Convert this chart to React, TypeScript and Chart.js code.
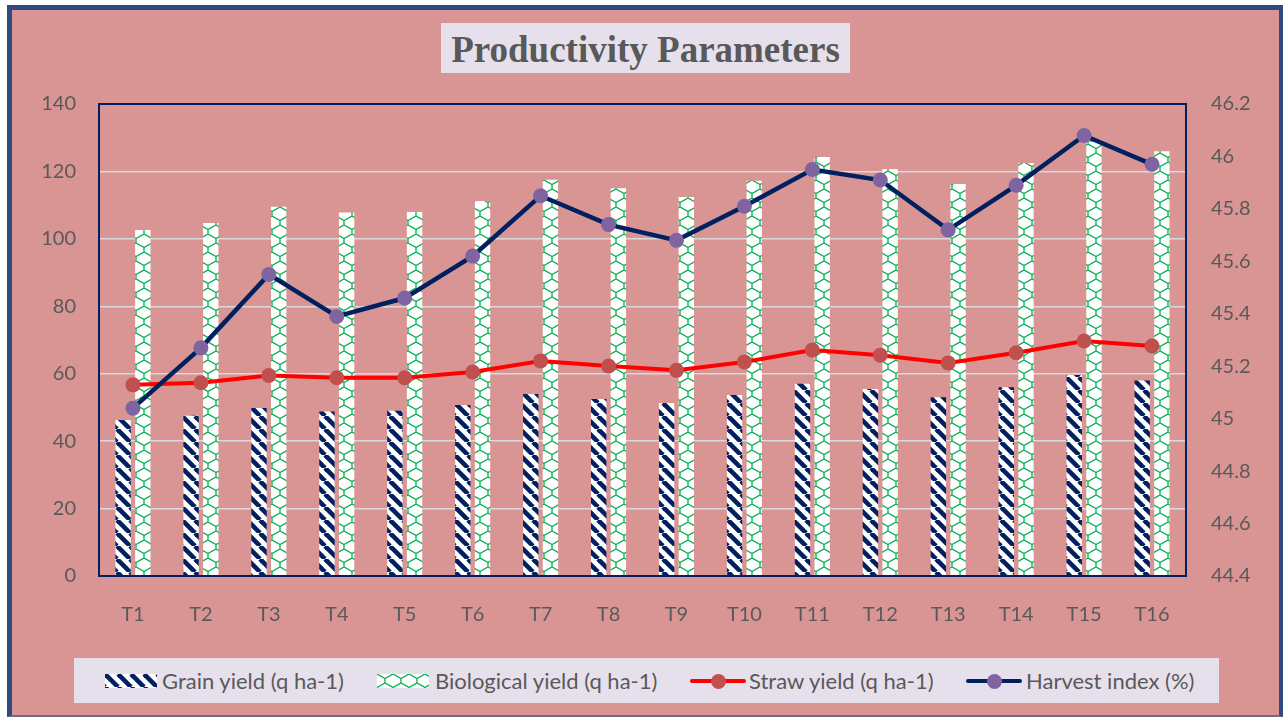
import React, { useEffect, useRef } from 'react';
import { Chart, registerables } from 'chart.js';

Chart.register(...registerables);

const categories = ['T1', 'T2', 'T3', 'T4', 'T5', 'T6', 'T7', 'T8', 'T9', 'T10', 'T11', 'T12', 'T13', 'T14', 'T15', 'T16'];
const grainYield = [46.3, 47.5, 49.8, 48.8, 49.0, 50.7, 54.0, 52.5, 51.3, 53.7, 57.0, 55.5, 53.0, 56.0, 59.6, 58.0];
const biologicalYield = [102.6, 104.7, 109.5, 107.8, 108.0, 111.2, 117.5, 115.0, 112.4, 117.2, 124.3, 120.7, 116.3, 122.5, 128.7, 126.0];
const strawYield = [56.7, 57.3, 59.5, 58.8, 58.8, 60.5, 63.8, 62.3, 61.0, 63.5, 67.0, 65.5, 63.2, 66.2, 69.7, 68.2];
const harvestIndex = [45.04, 45.27, 45.55, 45.39, 45.46, 45.62, 45.85, 45.74, 45.68, 45.81, 45.95, 45.91, 45.72, 45.89, 46.08, 45.97];

const leftAxis = { min: 0, max: 140, step: 20 };
const rightAxis = { min: 44.4, max: 46.2, step: 0.2 };

const seriesNames = ['Grain yield (q ha-1)', 'Biological yield (q ha-1)', 'Straw yield (q ha-1)', 'Harvest index (%)'];
const titleText = 'Productivity Parameters';

const NAVY = '#002060';
const GREEN = '#00B050';
const RED = '#FF0000';
const RED_MARK = '#C0504D';
const PURPLE = '#8064A2';
const TEXT = '#595959';
const PINK = '#D99594';
const LAVENDER = '#E6E0EC';

function stripeTile(): HTMLCanvasElement {
  const s = 13;
  const c = document.createElement('canvas');
  c.width = s;
  c.height = s;
  const ctx = c.getContext('2d')!;
  ctx.fillStyle = '#FFFFFF';
  ctx.fillRect(0, 0, s, s);
  ctx.strokeStyle = NAVY;
  ctx.lineWidth = 4.6;
  for (let k = -1; k <= 1; k++) {
    ctx.beginPath();
    ctx.moveTo(k * s, 0);
    ctx.lineTo(k * s + s, s);
    ctx.stroke();
  }
  return c;
}

function latticeTile(): HTMLCanvasElement {
  const w = 16;
  const h = 18;
  const c = document.createElement('canvas');
  c.width = w;
  c.height = h;
  const ctx = c.getContext('2d')!;
  ctx.fillStyle = '#FFFFFF';
  ctx.fillRect(0, 0, w, h);
  ctx.strokeStyle = GREEN;
  ctx.lineWidth = 1.3;
  const r = h / 2;
  const d = r * 0.5;
  ctx.beginPath();
  // row A: V with stem
  ctx.moveTo(0, 0);
  ctx.lineTo(w / 2, d);
  ctx.lineTo(w, 0);
  ctx.moveTo(w / 2, d);
  ctx.lineTo(w / 2, r);
  // row B (shifted by half)
  ctx.moveTo(-w / 2, r);
  ctx.lineTo(0, r + d);
  ctx.lineTo(w / 2, r);
  ctx.lineTo(w, r + d);
  ctx.lineTo(w * 1.5, r);
  ctx.moveTo(0, r + d);
  ctx.lineTo(0, h);
  ctx.moveTo(w, r + d);
  ctx.lineTo(w, h);
  ctx.stroke();
  return c;
}

const plotBorder = {
  id: 'plotBorder',
  afterDatasetsDraw(chart: any) {
    const { ctx, chartArea } = chart;
    ctx.save();
    ctx.strokeStyle = NAVY;
    ctx.lineWidth = 2;
    ctx.strokeRect(chartArea.left, chartArea.top, chartArea.right - chartArea.left, chartArea.bottom - chartArea.top);
    ctx.restore();
  },
};

export default function App() {
  const canvasRef = useRef<HTMLCanvasElement | null>(null);
  const grainSwatch = useRef<HTMLDivElement | null>(null);
  const bioSwatch = useRef<HTMLDivElement | null>(null);

  useEffect(() => {
    const canvas = canvasRef.current!;
    const ctx = canvas.getContext('2d')!;
    const sTile = stripeTile();
    const lTile = latticeTile();
    const stripe = ctx.createPattern(sTile, 'repeat')!;
    const lattice = ctx.createPattern(lTile, 'repeat')!;
    if (grainSwatch.current) grainSwatch.current.style.backgroundImage = `url(${sTile.toDataURL()})`;
    if (bioSwatch.current) bioSwatch.current.style.backgroundImage = `url(${lTile.toDataURL()})`;

    const tickFont = { family: 'Lato', size: 20 };
    const chart = new Chart(canvas, {
      type: 'bar',
      data: {
        labels: categories,
        datasets: [
          {
            type: 'line',
            label: seriesNames[3],
            data: harvestIndex,
            yAxisID: 'y1',
            borderColor: NAVY,
            borderWidth: 4.5,
            pointBackgroundColor: PURPLE,
            pointBorderColor: PURPLE,
            pointBorderWidth: 0,
            pointRadius: 7.5,
            tension: 0,
            order: 0,
          } as any,
          {
            type: 'line',
            label: seriesNames[2],
            data: strawYield,
            yAxisID: 'y',
            borderColor: RED,
            borderWidth: 4,
            pointBackgroundColor: RED_MARK,
            pointBorderColor: RED_MARK,
            pointBorderWidth: 0,
            pointRadius: 7.5,
            tension: 0,
            order: 1,
          } as any,
          {
            type: 'bar',
            label: seriesNames[0],
            data: grainYield,
            yAxisID: 'y',
            backgroundColor: stripe,
            borderWidth: 0,
            categoryPercentage: 0.58,
            barPercentage: 0.78,
            order: 2,
          } as any,
          {
            type: 'bar',
            label: seriesNames[1],
            data: biologicalYield,
            yAxisID: 'y',
            backgroundColor: lattice,
            borderWidth: 0,
            categoryPercentage: 0.58,
            barPercentage: 0.78,
            order: 3,
          } as any,
        ],
      },
      options: {
        responsive: false,
        animation: false,
        layout: { padding: { top: 104, left: 0, right: 0, bottom: 0 } },
        plugins: {
          legend: { display: false },
          title: { display: false },
          tooltip: { enabled: false },
        },
        scales: {
          x: {
            grid: { display: false, drawTicks: false },
            border: { display: false },
            ticks: { color: TEXT, font: tickFont, padding: 27, maxRotation: 0 },
            afterFit: (s: any) => {
              s.height = 141;
            },
          },
          y: {
            position: 'left',
            min: leftAxis.min,
            max: leftAxis.max,
            grid: { color: '#DADADA', lineWidth: 1.5, drawTicks: false },
            border: { display: false },
            ticks: { stepSize: leftAxis.step, color: TEXT, font: tickFont, padding: 23 },
            afterFit: (s: any) => {
              s.width = 99;
            },
          },
          y1: {
            position: 'right',
            min: rightAxis.min,
            max: rightAxis.max,
            grid: { display: false, drawTicks: false },
            border: { display: false },
            ticks: {
              stepSize: rightAxis.step,
              color: TEXT,
              font: tickFont,
              padding: 25,
              callback: (v: any) => String(Math.round(Number(v) * 10) / 10),
            },
            afterFit: (s: any) => {
              s.width = 97;
            },
          },
        },
      },
      plugins: [plotBorder],
    });
    return () => chart.destroy();
  }, []);

  const legendText: React.CSSProperties = {
    position: 'absolute',
    top: 658,
    height: 45,
    lineHeight: '45px',
    fontFamily: 'Lato',
    fontSize: 22,
    color: TEXT,
    whiteSpace: 'nowrap',
  };
  const lineSwatch = (left: number, color: string, mark: string) => (
    <>
      <div style={{ position: 'absolute', left, top: 679, width: 56, height: 4, background: color, borderRadius: 2 }} />
      <div style={{ position: 'absolute', left: left + 28 - 7.5, top: 673.5, width: 15, height: 15, borderRadius: '50%', background: mark }} />
    </>
  );

  return (
    <div style={{ position: 'absolute', left: 0, top: 0, width: 1283, height: 717, overflow: 'hidden', background: '#FFFFFF' }}>
      <div
        style={{
          position: 'absolute',
          left: 7,
          top: 5,
          width: 1276,
          height: 712,
          boxSizing: 'border-box',
          background: PINK,
          borderTop: '5px solid #2E4A7E',
          borderLeft: '5px solid #2E4A7E',
          borderRight: '4px solid #2E4A7E',
          borderBottom: '2px solid #6F6A8C',
        }}
      />
      <div
        style={{
          position: 'absolute',
          left: 441,
          top: 23,
          width: 409,
          height: 50,
          background: LAVENDER,
          textAlign: 'center',
          fontFamily: '"Liberation Serif", "Times New Roman", serif',
          fontWeight: 'bold',
          fontSize: 37,
          lineHeight: '50px',
          color: TEXT,
          whiteSpace: 'nowrap',
        }}
      >
        <span style={{ position: 'relative', top: 2 }}>{titleText}</span>
      </div>
      <div style={{ position: 'absolute', left: 74, top: 658, width: 1145, height: 45, background: LAVENDER }} />
      <div ref={grainSwatch} style={{ position: 'absolute', left: 105, top: 674, width: 52, height: 14 }} />
      <div style={{ ...legendText, left: 162 }}>{seriesNames[0]}</div>
      <div ref={bioSwatch} style={{ position: 'absolute', left: 377, top: 674, width: 52, height: 14 }} />
      <div style={{ ...legendText, left: 435 }}>{seriesNames[1]}</div>
      {lineSwatch(690, RED, RED_MARK)}
      <div style={{ ...legendText, left: 749 }}>{seriesNames[2]}</div>
      {lineSwatch(966, NAVY, PURPLE)}
      <div style={{ ...legendText, left: 1026 }}>{seriesNames[3]}</div>
      <canvas ref={canvasRef} width={1283} height={717} style={{ position: 'absolute', left: 0, top: 0, width: 1283, height: 717 }} />
    </div>
  );
}
